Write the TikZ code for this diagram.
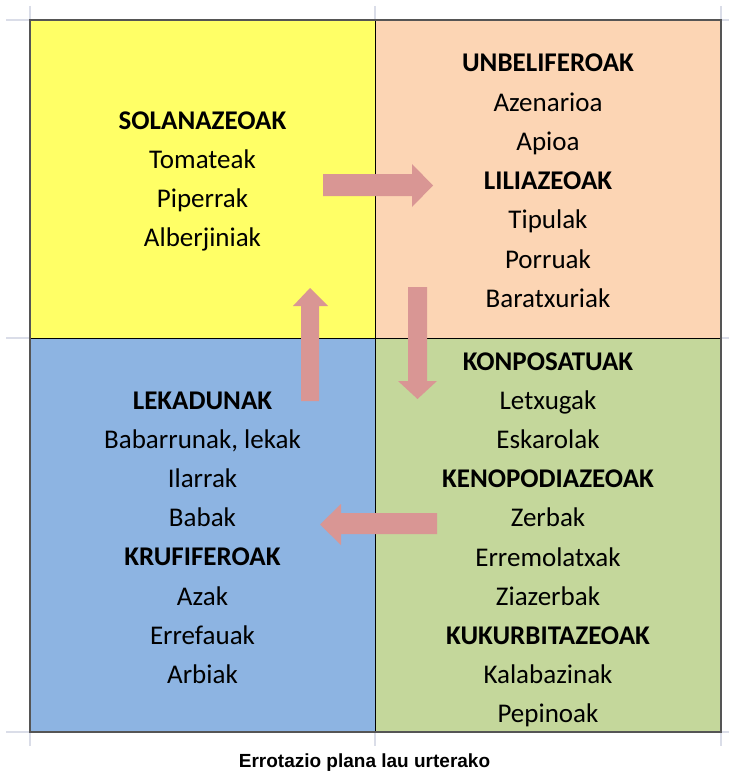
\documentclass[tikz,border=0pt]{standalone}
\usepackage{fontspec}
\setmainfont{Carlito}
\newfontfamily\capfont{Liberation Sans}
\definecolor{cyel}{HTML}{FFFF66}
\definecolor{cpeach}{HTML}{FCD5B4}
\definecolor{cblue}{HTML}{8DB4E2}
\definecolor{cgreen}{HTML}{C4D79B}
\definecolor{carrow}{HTML}{D99694}
\definecolor{cgrid}{HTML}{DADDE8}
\definecolor{cborder}{HTML}{555555}
\tikzset{
  txt/.style={anchor=base, inner sep=0pt, font=\fontsize{27}{30}\selectfont},
  captxt/.style={anchor=base, inner sep=0pt, font=\capfont\bfseries\fontsize{19}{22}\selectfont},
  blockarrow/.style={fill=carrow, draw=none},
  gridstub/.style={draw=cgrid, line width=1.2pt},
}
\begin{document}
\begin{tikzpicture}[x=1pt,y=1pt]
\useasboundingbox (0,0) rectangle (729,-773);
% quadrants
\fill[cyel]   (30,-20)  rectangle (375,-338);
\fill[cpeach] (375,-20) rectangle (721,-338);
\fill[cblue]  (30,-338) rectangle (375,-732);
\fill[cgreen] (375,-338) rectangle (721,-732);
% grid stubs
\draw[gridstub] (6,-20) -- (30,-20);
\draw[gridstub] (6,-338) -- (30,-338);
\draw[gridstub] (6,-732) -- (30,-732);
\draw[gridstub] (721,-20) -- (729,-20);
\draw[gridstub] (721,-338) -- (729,-338);
\draw[gridstub] (721,-732) -- (729,-732);
\draw[gridstub] (30,-6) -- (30,-20);
\draw[gridstub] (375,-6) -- (375,-20);
\draw[gridstub] (721,-6) -- (721,-20);
\draw[gridstub] (30,-732) -- (30,-746);
\draw[gridstub] (375,-732) -- (375,-746);
\draw[gridstub] (721,-732) -- (721,-746);
% inner lines
\draw[black, line width=1pt] (375,-20) -- (375,-732);
\draw[black, line width=1pt] (30,-338) -- (721,-338);
% outer border
\draw[cborder, line width=1.8pt] (30,-20) rectangle (721,-732);
% block arrows
\fill[blockarrow] (323,-174) -- (412,-174) -- (412,-164) -- (433,-185.5) -- (412,-207) -- (412,-196) -- (323,-196) -- cycle;
\fill[blockarrow] (301,-401) -- (301,-306) -- (293,-306) -- (310,-288) -- (328,-306) -- (319,-306) -- (319,-401) -- cycle;
\fill[blockarrow] (408,-287) -- (427,-287) -- (427,-381) -- (437,-381) -- (417.5,-399) -- (398,-381) -- (408,-381) -- cycle;
\fill[blockarrow] (437,-513) -- (341,-513) -- (341,-504) -- (320,-524.5) -- (341,-545) -- (341,-534) -- (437,-534) -- cycle;
% texts
\foreach \t [count=\i] in {{\textbf{SOLANAZEOAK}},Tomateak,Piperrak,Alberjiniak}
  \node[txt] (tl\i) at (202.5,{-129-(\i-1)*39.3}) {\t};
\foreach \t [count=\i] in {{\textbf{UNBELIFEROAK}},Azenarioa,Apioa,{\textbf{LILIAZEOAK}},Tipulak,Porruak,Baratxuriak}
  \node[txt] (tr\i) at (548,{-72-(\i-1)*39.2}) {\t};
\foreach \t [count=\i] in {{\textbf{LEKADUNAK}},{Babarrunak, lekak},Ilarrak,Babak,{\textbf{KRUFIFEROAK}},Azak,Errefauak,Arbiak}
  \node[txt] (bl\i) at (202.5,{-409-(\i-1)*39.2}) {\t};
\foreach \t [count=\i] in {{\textbf{KONPOSATUAK}},Letxugak,Eskarolak,{\textbf{KENOPODIAZEOAK}},Zerbak,Erremolatxak,Ziazerbak,{\textbf{KUKURBITAZEOAK}},Kalabazinak,Pepinoak}
  \node[txt] (br\i) at (548,{-370-(\i-1)*39.2}) {\t};
\node[captxt] (caption) at (364.5,-767) {Errotazio plana lau urterako};
\end{tikzpicture}
\end{document}
